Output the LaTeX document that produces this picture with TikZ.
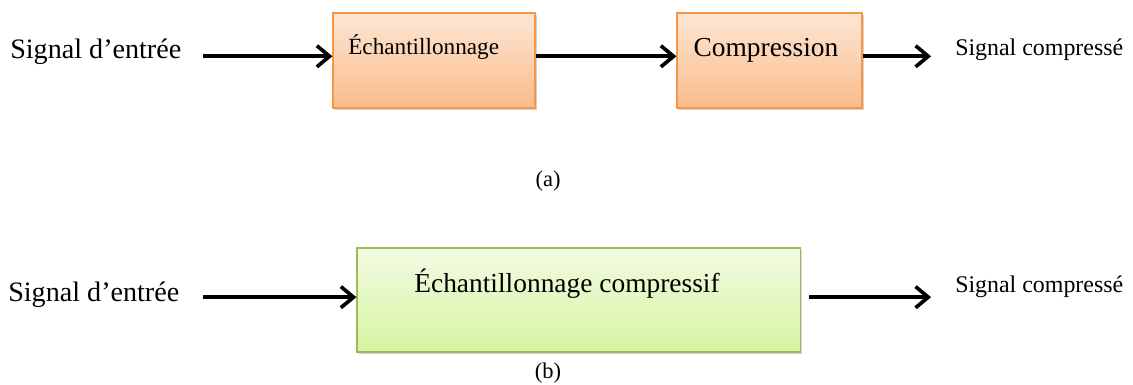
\documentclass[tikz,border=0pt]{standalone}
\usepackage{fontspec}
\setmainfont{Liberation Serif}
\usetikzlibrary{arrows.meta,shadows}

\definecolor{orangeline}{RGB}{247,150,70}
\definecolor{orangetop}{RGB}{253,230,212}
\definecolor{orangebottom}{RGB}{250,188,138}
\definecolor{greenline}{RGB}{155,187,89}
\definecolor{greentop}{RGB}{242,251,228}
\definecolor{greenbottom}{RGB}{214,244,160}

\begin{document}
\begin{tikzpicture}[x=0.025cm,y=-0.025cm]
    \tikzstyle{signal}=[inner sep=0pt]
    \tikzstyle{flow}=[-{Straight Barb[length=9pt,width=15pt]},line width=2.6pt]
    \tikzstyle{block}=[rectangle,inner sep=0pt,line width=0.8pt,
        drop shadow={shadow xshift=1.5pt,shadow yshift=-1.5pt,opacity=0.35}]
    \tikzstyle{orange block}=[block,draw=orangeline,top color=orangetop,bottom color=orangebottom]
    \tikzstyle{green block}=[block,draw=greenline,top color=greentop,bottom color=greenbottom]
    \tikzstyle{caption}=[font=\fontsize{16}{18}\selectfont]

    \useasboundingbox (0,0) rectangle (1133,385);

    % Draw the chain (a)
    \node[signal,anchor=west,font=\fontsize{20}{22}\selectfont] (in-a) at (10,52) {Signal d’entrée};
    \node[orange block,minimum width=5.05cm,minimum height=2.375cm] (E) at (434,60.5) {};
    \node[signal,anchor=west,font=\fontsize{16.5}{18}\selectfont] (E-text) at (348,47) {Échantillonnage};
    \node[orange block,minimum width=4.625cm,minimum height=2.375cm] (C) at (769.5,60.5) {};
    \node[signal,font=\fontsize{19.5}{21}\selectfont] (C-text) at (766,50) {Compression};
    \node[signal,anchor=west,font=\fontsize{17}{19}\selectfont] (out-a) at (955,50) {Signal compressé};
    \node[caption] (cap-a) at (548,181) {(a)};

    \draw[flow] ([xshift=15,yshift=3pt]in-a.east |- E.west) -- ([yshift=3pt]E.west);
    \draw[flow] ([yshift=3pt]E.east) -- ([yshift=3pt]C.west);
    \draw[flow] ([yshift=3pt]C.east) -- ([xshift=-17,yshift=3pt]out-a.west |- C.east);

    % Draw the chain (b)
    \node[signal,anchor=west,font=\fontsize{20}{22}\selectfont] (in-b) at (8,295) {Signal d’entrée};
    \node[green block,minimum width=11.075cm,minimum height=2.6cm] (G) at (578.5,300) {};
    \node[signal,font=\fontsize{19.5}{21}\selectfont] (G-text) at (567,284) {Échantillonnage compressif};
    \node[signal,anchor=west,font=\fontsize{17}{19}\selectfont] (out-b) at (955,287) {Signal compressé};
    \node[caption] (cap-b) at (548,373) {(b)};

    \draw[flow] ([xshift=17,yshift=2pt]in-b.east |- G.west) -- ([yshift=2pt]G.west);
    \draw[flow] ([xshift=6,yshift=2pt]G.east) -- ([xshift=-17,yshift=2pt]out-b.west |- G.east);

\end{tikzpicture}
\end{document}
